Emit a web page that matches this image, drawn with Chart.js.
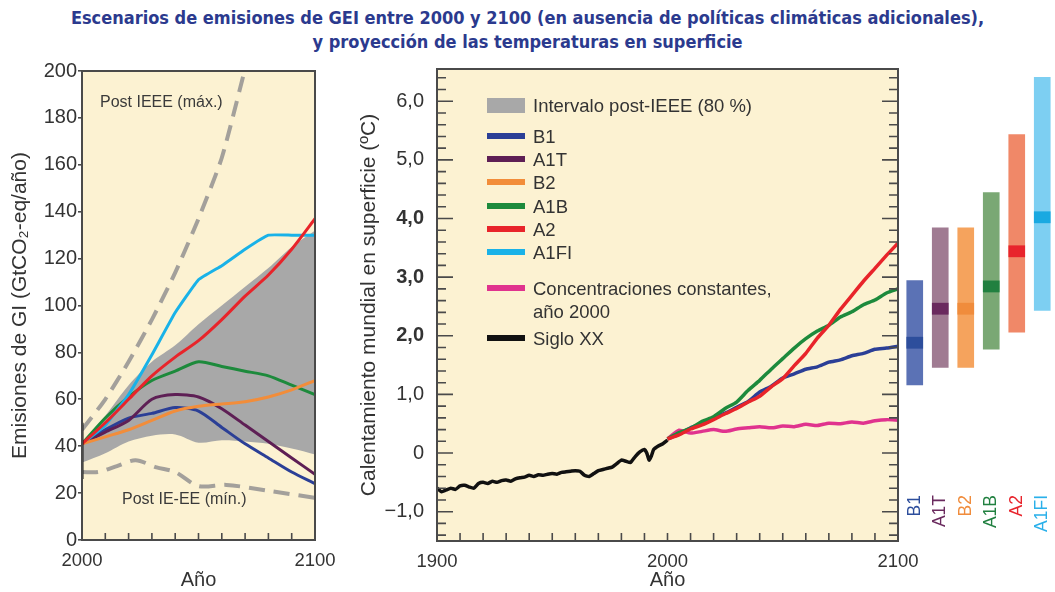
<!DOCTYPE html>
<html>
<head>
<meta charset="utf-8">
<script src="https://cdn.jsdelivr.net/npm/chart.js@4.4.0/dist/chart.umd.min.js"></script>
<style>
  html, body { margin: 0; padding: 0; background: #fff; overflow: hidden; }
  body { width: 1055px; height: 592px; position: relative; font-family: "Liberation Sans", Arial, sans-serif; color: #333; }
  canvas { position: absolute; top: 55px; }
  .title { position: absolute; left: 0; width: 1055px; text-align: center; font-family: "DejaVu Sans Condensed", "DejaVu Sans", sans-serif; font-weight: bold; font-size: 18px; color: #2b3a8e; white-space: nowrap; }
  .note { position: absolute; font-size: 16px; color: #3a3a3a; white-space: nowrap; }
  .leg { position: absolute; font-size: 18.5px; color: #333; line-height: 23px; white-space: nowrap; }
  .sw { position: absolute; left: 487px; width: 38px; }
</style>
</head>
<body>
<div class="title" style="top:7px">Escenarios de emisiones de GEI entre 2000 y 2100 (en ausencia de políticas climáticas adicionales),</div>
<div class="title" style="top:31px">y proyección de las temperaturas en superficie</div>

<canvas id="emis" width="345" height="537" style="left:0"></canvas>
<canvas id="temp" width="590" height="537" style="left:340px"></canvas>
<canvas id="bars" width="157" height="537" style="left:898px"></canvas>

<div class="note" style="left:100px;top:93px">Post IEEE (máx.)</div>
<div class="note" style="left:122px;top:490px">Post IE-EE (mín.)</div>
<div id="legend"></div>

<script>
// ---- panel izquierdo: emisiones (GtCO2-eq/año) ----
const emisYears = [2000, 2010, 2020, 2030, 2040, 2050, 2060, 2070, 2080, 2090, 2100];
const emisB1   = [41, 47, 52, 54, 56.5, 55, 48, 41, 35, 29, 24];
const emisA1T  = [41, 46, 51, 60, 62, 61, 56, 49, 42, 35, 28];
const emisB2   = [41, 44, 47, 51, 55, 57, 58, 59, 61, 64, 68];
const emisA1B  = [41, 52, 61, 68, 72, 76, 74, 72, 70, 66, 62];
const emisA2   = [41, 50, 60, 70, 78, 85, 94, 104, 113, 124, 137];
const emisA1FI = [41, 49, 62, 79, 97, 111, 117, 124, 130, 130, 130];
const bandHigh = [41, 53, 66, 76, 83, 92, 100, 108, 116, 125, 132];
const bandLow  = [33, 37, 42, 44.5, 45, 41.5, 42.5, 42, 41, 39, 36.5];
const maxYears = [2000, 2010, 2020, 2030, 2040, 2050, 2060, 2070];
const maxEmis  = [47, 60, 76, 94, 114, 137, 163, 201];
const minYears = [2000, 2007, 2015, 2023, 2032, 2040, 2050, 2062, 2080, 2100];
const minEmis  = [29, 29, 31.5, 34, 31, 29, 23, 23.5, 21, 18];
const range2000 = [26, 50];
const emisYTicks = [0, 20, 40, 60, 80, 100, 120, 140, 160, 180, 200];
const emisXLabels = [2000, 2100];

// ---- panel central: calentamiento (ºC) ----
const histYears = [1900, 1902, 1904, 1906, 1908, 1910, 1912, 1914, 1916, 1918, 1920, 1922, 1924, 1926, 1928,
  1930, 1932, 1934, 1936, 1938, 1940, 1942, 1944, 1946, 1948, 1950, 1952, 1954, 1956, 1958, 1960, 1962,
  1964, 1966, 1968, 1970, 1972, 1974, 1976, 1978, 1980, 1982, 1984, 1986, 1988, 1990, 1991, 1992, 1993,
  1994, 1996, 1998, 2000];
const histTemp = [-0.60, -0.66, -0.63, -0.60, -0.62, -0.56, -0.55, -0.58, -0.60, -0.52, -0.50, -0.52, -0.48,
  -0.50, -0.47, -0.46, -0.48, -0.44, -0.42, -0.41, -0.38, -0.40, -0.37, -0.38, -0.36, -0.35, -0.36, -0.33,
  -0.32, -0.31, -0.30, -0.31, -0.38, -0.40, -0.35, -0.30, -0.28, -0.26, -0.24, -0.18, -0.12, -0.14, -0.16,
  -0.06, 0.02, 0.06, 0.00, -0.12, -0.05, 0.06, 0.12, 0.16, 0.22];
const futYears = [2000, 2005, 2010, 2015, 2020, 2025, 2030, 2035, 2040, 2045, 2050, 2055, 2060, 2065, 2070,
  2075, 2080, 2085, 2090, 2095, 2100];
const tempA2    = [0.24, 0.31, 0.41, 0.48, 0.57, 0.67, 0.76, 0.87, 0.97, 1.13, 1.27, 1.49, 1.70, 1.96, 2.18, 2.45, 2.69, 2.93, 3.15, 3.37, 3.58];
const tempA1B   = [0.24, 0.35, 0.42, 0.54, 0.62, 0.76, 0.87, 1.07, 1.24, 1.43, 1.61, 1.79, 1.95, 2.08, 2.18, 2.32, 2.41, 2.53, 2.61, 2.73, 2.80];
const tempB1    = [0.24, 0.32, 0.43, 0.50, 0.61, 0.68, 0.78, 0.88, 1.04, 1.14, 1.28, 1.35, 1.43, 1.47, 1.55, 1.59, 1.66, 1.70, 1.77, 1.79, 1.82];
const tempConst = [0.24, 0.39, 0.34, 0.37, 0.40, 0.37, 0.41, 0.43, 0.45, 0.43, 0.46, 0.45, 0.49, 0.47, 0.51, 0.50, 0.53, 0.51, 0.55, 0.57, 0.56];
const tempYTicks = [-1, 0, 1, 2, 3, 4, 5, 6];
const tempXLabels = [1900, 2000, 2100];

// ---- barras de la derecha: intervalo probable y mejor estimación ----
const scenarios = ['B1', 'A1T', 'B2', 'A1B', 'A2', 'A1FI'];
const rangeLow  = [1.16, 1.46, 1.46, 1.77, 2.06, 2.43];
const rangeHigh = [2.94, 3.84, 3.84, 4.44, 5.43, 6.41];
const bestEst   = [1.88, 2.46, 2.46, 2.84, 3.44, 4.02];

const lineCol  = { B1: '#2b3f96', A1T: '#5e1f55', B2: '#f28d3a', A1B: '#1d8a3c', A2: '#e8242a', A1FI: '#19b2e8' };
const barCol   = ['#5b72b5', '#a07b92', '#f5a35d', '#7aa874', '#f08868', '#7dcff2'];
const markCol  = ['#2d4e9c', '#6a2a5e', '#f08c3c', '#218040', '#e8242c', '#1aa9e1'];
const labelCol = ['#2d4e9c', '#6a2a5e', '#f08c3c', '#218040', '#e8242c', '#2ab0ea'];
const PINK = '#e0338e';
const CREAM = '#fcf2d2';
const GREY_BAND = '#a8a8a8';
const DASH = '#a3a09b';

const FONT = '"Liberation Sans", Arial, sans-serif';
Chart.defaults.font.family = FONT;
Chart.defaults.color = '#333';
Chart.defaults.animation = false;

const pts = (xs, ys) => xs.map((x, i) => ({ x, y: ys[i] }));

// fondo crema, marco y marcas interiores
const framePlugin = {
  id: 'frame',
  beforeDraw(chart, args, o) {
    if (!o.bg) return;
    const { ctx, chartArea: a } = chart;
    ctx.save();
    ctx.fillStyle = o.bg;
    ctx.fillRect(a.left, a.top, a.right - a.left, a.bottom - a.top);
    ctx.restore();
  },
  afterDatasetsDraw(chart, args, o) {
    if (!o.border) return;
    const { ctx, chartArea: a, scales } = chart;
    ctx.save();
    ctx.strokeStyle = o.border;
    ctx.lineWidth = 1.6;
    (o.ticks || []).forEach(t => {
      const sc = scales[t.axis];
      t.values.forEach(v => {
        const p = sc.getPixelForValue(v);
        ctx.beginPath();
        if (t.axis === 'x') {
          ctx.moveTo(p, a.bottom); ctx.lineTo(p, a.bottom - t.len);
        } else {
          ctx.moveTo(a.left, p); ctx.lineTo(a.left + t.len, p);
          if (t.both) { ctx.moveTo(a.right, p); ctx.lineTo(a.right - t.len, p); }
        }
        ctx.stroke();
      });
    });
    ctx.lineWidth = 2;
    ctx.strokeRect(a.left, a.top, a.right - a.left, a.bottom - a.top);
    ctx.restore();
  }
};

// tamaño fijo del eje, sin relleno extra por las etiquetas de los extremos
const noPad = s => { s.paddingLeft = 0; s.paddingRight = 0; s.paddingTop = 0; s.paddingBottom = 0; };
const fixW = w => s => { s.width = w; noPad(s); };
const fixH = h => s => { s.height = h; noPad(s); };
const setTicks = arr => s => { s.ticks = arr.map(v => ({ value: v })); };

function line(label, xs, ys, color, width, order, extra) {
  return Object.assign({
    label, data: pts(xs, ys), borderColor: color, borderWidth: width,
    pointRadius: 0, fill: false, tension: 0.25, order
  }, extra || {});
}

// ===== panel izquierdo =====
new Chart(document.getElementById('emis'), {
  type: 'line',
  data: {
    datasets: [
      line('max', maxYears, maxEmis, DASH, 4, 5, { borderDash: [16, 9], tension: 0.2 }),
      line('min', minYears, minEmis, DASH, 4, 5, { borderDash: [16, 9], tension: 0.3 }),
      line('A1FI', emisYears, emisA1FI, lineCol.A1FI, 3, 3, { tension: 0.1 }),
      line('A2', emisYears, emisA2, lineCol.A2, 3, 1),
      line('A1B', emisYears, emisA1B, lineCol.A1B, 3, 3),
      line('B2', emisYears, emisB2, lineCol.B2, 3, 2),
      line('A1T', emisYears, emisA1T, lineCol.A1T, 3, 3),
      line('B1', emisYears, emisB1, lineCol.B1, 3, 3),
      line('rango', [2000, 2000], range2000, '#111', 3, 0, { tension: 0 }),
      line('banda sup', emisYears, bandHigh, GREY_BAND, 0, 9, { fill: '+1', backgroundColor: GREY_BAND, tension: 0.3 }),
      line('banda inf', emisYears, bandLow, GREY_BAND, 0, 10, { tension: 0.3 })
    ]
  },
  options: {
    responsive: false,
    layout: { autoPadding: false, padding: { top: 16, right: 30, left: 0, bottom: 0 } },
    plugins: {
      legend: { display: false }, tooltip: { enabled: false },
      frame: { bg: CREAM, border: '#4a4a4a', ticks: [{ axis: 'x', values: emisYears, len: 7 }] }
    },
    scales: {
      x: {
        type: 'linear', min: 2000, max: 2100,
        afterBuildTicks: setTicks(emisXLabels), afterFit: fixH(52),
        grid: { display: false, drawTicks: false }, border: { display: false },
        ticks: { padding: 10, font: { size: 18.5 }, color: '#333', callback: v => String(v), maxRotation: 0 },
        title: { display: true, text: 'Año', font: { size: 20 }, color: '#333', padding: { top: 0, bottom: 0 } }
      },
      y: {
        min: 0, max: 200,
        afterBuildTicks: setTicks(emisYTicks), afterFit: fixW(82),
        grid: { display: true, drawOnChartArea: false, tickLength: 4, color: '#4a4a4a', lineWidth: 1.6 },
        border: { display: false },
        ticks: { padding: 1, font: { size: 20 }, color: '#333', callback: v => String(v) },
        title: { display: true, text: 'Emisiones de GI (GtCO₂-eq/año)', font: { size: 21 }, color: '#333', padding: { top: 8, bottom: 0 } }
      }
    }
  },
  plugins: [framePlugin]
});

// ===== panel central =====
const minorTicks = [];
for (let v = -14; v <= 64; v += 2) if (v % 10 !== 0) minorTicks.push(v / 10);
const fmtTemp = v => v === 0 ? '0' : v.toFixed(1).replace('.', ',').replace('-', '\u2212');

new Chart(document.getElementById('temp'), {
  type: 'line',
  data: {
    datasets: [
      line('A2', futYears, tempA2, lineCol.A2, 3.5, 1, { tension: 0.2 }),
      line('A1B', futYears, tempA1B, lineCol.A1B, 3.5, 2, { tension: 0.2 }),
      line('B1', futYears, tempB1, lineCol.B1, 3.5, 3, { tension: 0.2 }),
      line('Concentraciones constantes', futYears, tempConst, PINK, 3.5, 4, { tension: 0.2 }),
      line('Siglo XX', histYears, histTemp, '#111', 3.5, 5, { tension: 0.15 })
    ]
  },
  options: {
    responsive: false,
    layout: { autoPadding: false, padding: { top: 14, right: 32, left: 0, bottom: 0 } },
    plugins: {
      legend: { display: false }, tooltip: { enabled: false },
      frame: {
        bg: CREAM, border: '#4a4a4a',
        ticks: [
          { axis: 'x', values: [1910, 1920, 1930, 1940, 1950, 1960, 1970, 1980, 1990, 2000, 2010, 2020, 2030, 2040, 2050, 2060, 2070, 2080, 2090], len: 8 },
          { axis: 'y', values: tempYTicks, len: 16, both: true },
          { axis: 'y', values: minorTicks, len: 9, both: true }
        ]
      }
    },
    scales: {
      x: {
        type: 'linear', min: 1900, max: 2100,
        afterBuildTicks: setTicks(tempXLabels), afterFit: fixH(51),
        grid: { display: false, drawTicks: false }, border: { display: false },
        ticks: { padding: 10, font: { size: 18.5 }, color: '#333', callback: v => String(v), maxRotation: 0 },
        title: { display: true, text: 'Año', font: { size: 20 }, color: '#333', padding: { top: 0, bottom: 0 } }
      },
      y: {
        min: -1.5, max: 6.55,
        afterBuildTicks: setTicks(tempYTicks), afterFit: fixW(97),
        grid: { display: false, drawTicks: false }, border: { display: false },
        ticks: {
          padding: 13, color: '#333', callback: fmtTemp,
          font: c => ({ size: 20, weight: [2, 3, 4].includes(c.tick && c.tick.value) ? 'bold' : 'normal' })
        },
        title: { display: true, text: 'Calentamiento mundial en superficie (ºC)', font: { size: 21 }, color: '#333', padding: { top: 17, bottom: 0 } }
      }
    }
  },
  plugins: [framePlugin]
});

// ===== barras derecha =====
new Chart(document.getElementById('bars'), {
  type: 'bar',
  data: {
    labels: scenarios,
    datasets: [
      {
        label: 'mejor estimación',
        data: bestEst.map(b => [b - 0.095, b + 0.095]),
        backgroundColor: markCol, barThickness: 16, grouped: false, order: 0
      },
      {
        label: 'intervalo probable',
        data: rangeLow.map((l, i) => [l, rangeHigh[i]]),
        backgroundColor: barCol, barThickness: 16, grouped: false, order: 1
      }
    ]
  },
  options: {
    responsive: false,
    layout: { autoPadding: false, padding: { top: 14, right: 0, left: 4, bottom: 0 } },
    plugins: { legend: { display: false }, tooltip: { enabled: false } },
    scales: {
      x: {
        afterFit: fixH(101),
        grid: { display: false, drawTicks: false }, border: { display: false },
        ticks: { padding: 4, minRotation: 90, maxRotation: 90, font: { size: 17.5 }, color: c => labelCol[c.index] }
      },
      y: { display: false, min: -0.65, max: 6.55 }
    }
  }
});

// ===== leyenda del panel central =====
const legendRows = [
  { text: 'Intervalo post-IEEE (80 %)', color: GREY_BAND, cy: 105, box: true },
  { text: 'B1', color: lineCol.B1, cy: 136 },
  { text: 'A1T', color: lineCol.A1T, cy: 159 },
  { text: 'B2', color: lineCol.B2, cy: 182 },
  { text: 'A1B', color: lineCol.A1B, cy: 206 },
  { text: 'A2', color: lineCol.A2, cy: 229 },
  { text: 'A1FI', color: lineCol.A1FI, cy: 252 },
  { text: 'Concentraciones constantes,<br>año 2000', color: PINK, cy: 288 },
  { text: 'Siglo XX', color: '#111', cy: 338 }
];
document.getElementById('legend').innerHTML = legendRows.map(r => {
  const h = r.box ? 15 : 6;
  return `<div class="sw" style="top:${r.cy - h / 2}px;height:${h}px;background:${r.color}"></div>` +
    `<div class="leg" style="left:533px;top:${r.cy - 11.5}px">${r.text}</div>`;
}).join('');
</script>
</body>
</html>
